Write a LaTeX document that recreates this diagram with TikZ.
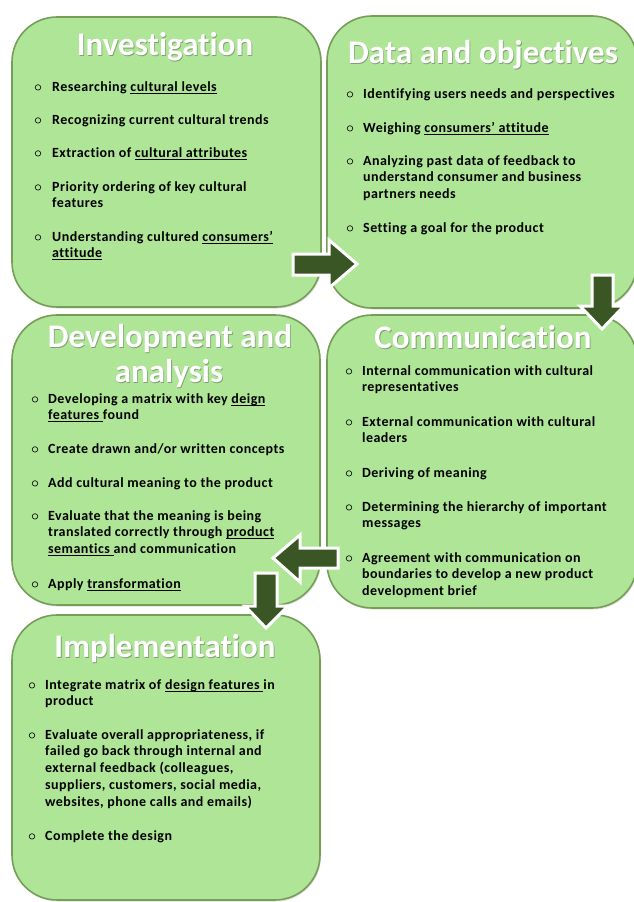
\documentclass[tikz,border=0pt]{standalone}
\usepackage{fontspec}
\setmainfont{Carlito}[Ligatures=NoCommon]
\newfontfamily\bodyfont{Carlito}[LetterSpace=3.3, Ligatures=NoCommon]
\usetikzlibrary{shadows}
\definecolor{boxfill}{RGB}{174,229,150}
\definecolor{boxline}{RGB}{118,158,88}
\definecolor{arrowfill}{RGB}{58,86,36}
\newcommand\ulin[1]{\setbox0\hbox{#1}\rlap{\rule[-2.2pt]{\wd0}{0.8pt}}\box0}
\newcommand\itm[5]{%
  \node[bul] (#1b) at (#2,#4-3.6) {};
  \node[item] (#1) at (#3,#4-11.7) {\strut #5};}
\newcommand\ttlnode[4]{%
  \node[ttlsh] at (#2+0.8,#3+1.4) {#4};
  \node[ttl] (#1) at (#2,#3) {#4};}
\begin{document}
\begin{tikzpicture}[x=1pt,y=-1pt,
  panel/.style={draw=boxline, line width=1.6pt, fill=boxfill, rounded corners=45pt,
    inner sep=0, drop shadow={opacity=0.25, shadow xshift=1pt, shadow yshift=-1.5pt}},
  ttl/.style={text=white, font=\fontsize{33}{37}\selectfont\bfseries, inner sep=0, anchor=base},
  ttlsh/.style={text=black!70, opacity=0.45, font=\fontsize{33}{37}\selectfont\bfseries, inner sep=0, anchor=base},
  item/.style={font=\bodyfont\bfseries\fontsize{14}{16.75}\selectfont, align=left, inner sep=0, anchor=north west},
  bul/.style={circle, draw=black, line width=0.6pt, inner sep=0, minimum size=5.5pt},
  blockarrow/.style={fill=arrowfill, draw=white, line width=3pt, line join=miter}]
\useasboundingbox (0,0) rectangle (633,902);
% panels
\node[panel, minimum width=309pt, minimum height=290pt] (inv) at (166.5,162) {};
\node[panel, minimum width=310pt, minimum height=292pt] (dat) at (482,162) {};
\node[panel, minimum width=308pt, minimum height=290pt] (dev) at (166,460) {};
\node[panel, minimum width=310pt, minimum height=293pt] (com) at (482,461.5) {};
\node[panel, minimum width=308pt, minimum height=285pt] (imp) at (166,757.5) {};
% titles
\ttlnode{t1}{165}{55}{Investigation}
\ttlnode{t2}{483}{63}{Data and objectives}
\ttlnode{t3a}{170}{347}{Development and}
\ttlnode{t3b}{169}{382}{analysis}
\ttlnode{t4}{483}{348}{Communication}
\ttlnode{t5}{165}{657}{Implementation}
% Investigation items
\itm{i1}{38}{52}{91}{Researching \ulin{cultural levels}}
\itm{i2}{38}{52}{124}{Recognizing current cultural trends}
\itm{i3}{38}{52}{157}{Extraction of \ulin{cultural attributes}}
\itm{i4}{38}{52}{191}{Priority ordering of key cultural\\features}
\itm{i5}{38}{52}{241}{Understanding cultured \ulin{consumers’}\\\ulin{attitude}}
% Data items
\itm{d1}{350}{363}{98}{Identifying users needs and perspectives}
\itm{d2}{350}{363}{132}{Weighing \ulin{consumers’ attitude}}
\itm{d3}{350}{363}{165}{Analyzing past data of feedback to\\understand consumer and business\\partners needs}
\itm{d4}{350}{363}{232}{Setting a goal for the product}
% Development items
\itm{v1}{35}{48}{403}{Developing a matrix with key \ulin{deign}\\\ulin{features\ }found}
\itm{v2}{35}{48}{453}{Create drawn and/or written concepts}
\itm{v3}{35}{48}{487}{Add cultural meaning to the product}
\itm{v4}{35}{48}{520}{Evaluate that the meaning is being\\translated correctly through \ulin{product}\\\ulin{semantics\ }and communication}
\itm{v5}{35}{48}{588}{Apply \ulin{transformation}}
% Communication items
\itm{c1}{349}{362}{375}{Internal communication with cultural\\representatives}
\itm{c2}{349}{362}{426}{External communication with cultural\\leaders}
\itm{c3}{349}{362}{477}{Deriving of meaning}
\itm{c4}{349}{362}{511}{Determining the hierarchy of important\\messages}
\itm{c5}{349}{362}{562}{Agreement with communication on\\boundaries to develop a new product\\development brief}
% Implementation items
\itm{m1}{32}{45}{689}{Integrate matrix of \ulin{design features\ }in\\product}
\itm{m2}{32}{45}{739}{Evaluate overall appropriateness, if\\failed go back through internal and\\external feedback (colleagues,\\suppliers, customers, social media,\\websites, phone calls and emails)}
\itm{m3}{32}{45}{840}{Complete the design}
% block arrows
\draw[blockarrow] (293,254) -- (329,254) -- (329,240) -- (357,264) -- (329,288) -- (329,275) -- (293,275) -- cycle;
\draw[blockarrow] (592,275) -- (613,275) -- (613,306) -- (624,306) -- (602,329) -- (580,306) -- (592,306) -- cycle;
\draw[blockarrow] (338,548) -- (300,548) -- (300,535) -- (273,558) -- (300,582) -- (300,568) -- (338,568) -- cycle;
\draw[blockarrow] (255,573) -- (277,573) -- (277,606) -- (288,606) -- (266,628) -- (245,606) -- (255,606) -- cycle;
\end{tikzpicture}
\end{document}
